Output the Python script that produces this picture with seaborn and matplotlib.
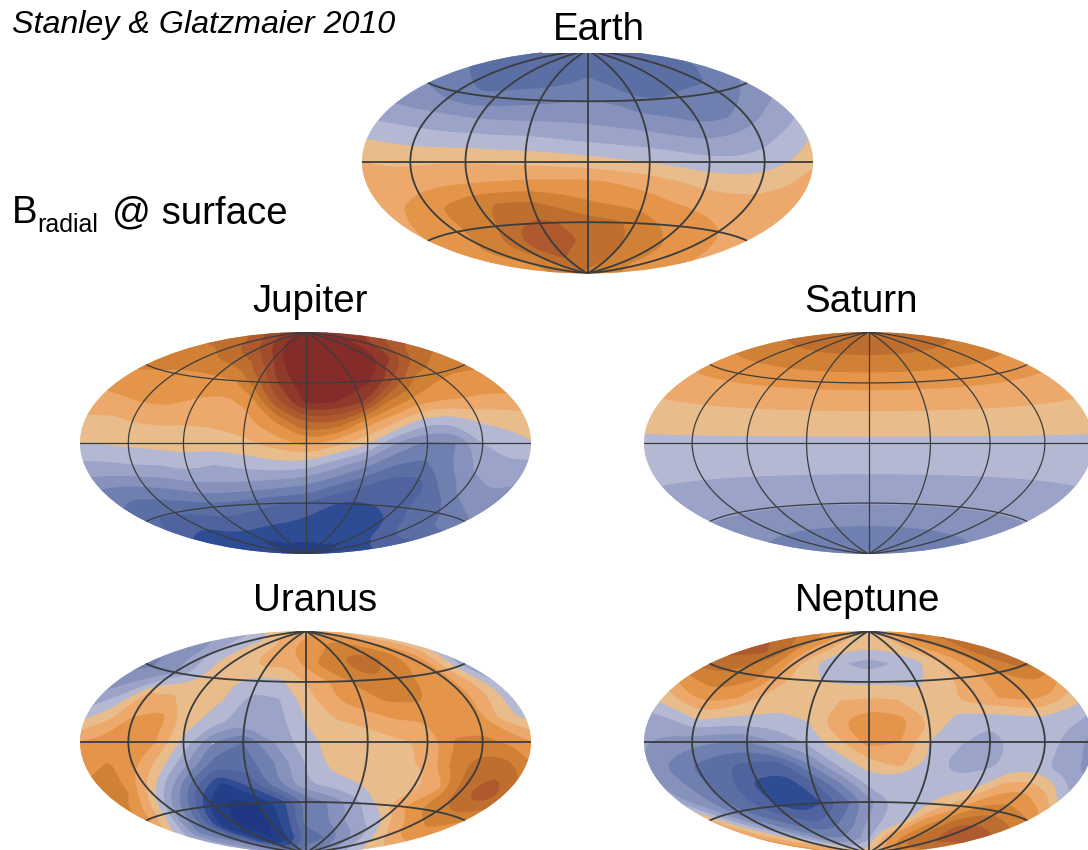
import numpy as np
import seaborn as sns
import matplotlib.pyplot as plt
from matplotlib.patches import Rectangle
from matplotlib.path import Path
from matplotlib.ticker import NullFormatter

# grid the maps are read on, degrees
lons = [-180, -157.5, -135, -112.5, -90, -67.5, -45, -22.5, 0, 22.5, 45, 67.5, 90, 112.5, 135, 157.5, 180]
lats = [90, 75, 60, 45, 30, 15, 0, -15, -30, -45, -60, -75, -90]

# field in band units: each whole number is one contour step, 0 = blue/orange edge
earth = [
    [-4.6] * 17,
    [-4.4, -4.5, -4.6, -4.6, -4.7, -4.8, -4.7, -4.6, -4.4, -4.5, -4.7, -4.8, -4.7, -4.6, -4.5, -4.4, -4.4],
    [-4.1, -4.3, -4.4, -4.5, -4.5, -4.5, -4.4, -4.1, -3.8, -4.1, -4.4, -4.6, -4.7, -4.5, -4.3, -4.1, -3.9],
    [-3.0, -3.2, -3.6, -3.9, -3.8, -3.5, -3.3, -3.1, -3.0, -3.1, -3.9, -4.0, -3.8, -3.7, -3.8, -3.2, -2.8],
    [-1.9, -1.9, -1.9, -2.0, -2.1, -2.1, -2.1, -2.1, -2.2, -2.4, -2.6, -2.9, -3.3, -3.3, -2.6, -2.0, -1.6],
    [-0.3, -0.4, -0.5, -0.6, -0.6, -0.7, -0.7, -0.9, -1.1, -1.3, -1.5, -1.8, -2.0, -1.8, -1.4, -0.9, -0.3],
    [1.0, 0.9, 0.8, 0.9, 0.9, 0.8, 0.7, 0.6, 0.42, 0.15, -0.1, -0.4, -0.7, -0.8, -0.6, 0.0, 0.9],
    [1.3, 1.4, 1.7, 1.9, 2.0, 2.1, 2.2, 2.2, 2.2, 1.9, 1.6, 1.1, 0.7, 0.6, 0.7, 1.0, 1.3],
    [1.3, 2.2, 2.7, 3.3, 3.9, 4.1, 4.1, 3.6, 3.1, 2.8, 2.5, 2.1, 1.8, 1.6, 1.5, 1.4, 1.3],
    [2.0, 2.3, 2.7, 3.3, 3.9, 4.8, 5.2, 4.9, 4.4, 4.2, 3.8, 3.0, 2.7, 2.3, 2.0, 1.8, 1.7],
    [2.5, 2.8, 3.2, 3.7, 4.5, 5.5, 5.7, 5.2, 4.7, 4.5, 4.0, 3.6, 3.1, 2.8, 2.4, 2.1, 1.9],
    [2.5, 2.7, 3.0, 3.4, 3.8, 4.6, 5.0, 4.6, 4.3, 4.2, 4.0, 3.6, 3.3, 2.9, 2.6, 2.5, 2.4],
    [3.8] * 17,
]

jupiter = [
    [8.5] * 17,
    [5.0, 5.0, 5.3, 5.8, 6.5, 7.2, 8.0, 8.3, 8.6, 8.6, 8.5, 8.5, 8.3, 8.1, 7.7, 7.2, 7.0],
    [3.6, 3.5, 3.7, 4.1, 4.3, 5.0, 6.5, 8.2, 8.6, 8.6, 8.6, 8.5, 8.1, 7.0, 5.5, 4.6, 4.3],
    [3.2, 3.0, 2.8, 2.6, 2.7, 2.9, 4.7, 7.3, 8.6, 8.7, 8.6, 7.8, 5.4, 3.6, 3.2, 3.1, 3.2],
    [2.1, 2.2, 2.4, 2.4, 1.9, 1.7, 2.3, 5.6, 8.1, 8.0, 7.1, 4.0, 2.7, 2.3, 2.2, 2.1, 2.3],
    [1.0, 0.9, 1.1, 1.2, 1.1, 1.2, 1.6, 2.9, 5.0, 4.9, 2.5, 1.0, -0.5, -0.6, 0.2, 0.5, 0.8],
    [-0.05, 0.05, 0.2, 0.35, 0.5, 0.5, 0.7, 1.4, 2.3, 1.3, 0.1, -2.2, -3.3, -3.0, -1.0, -0.6, -0.1],
    [-1.6, -1.5, -1.2, -1.1, -0.7, -1.0, -0.6, -0.3, -0.4, -1.5, -2.7, -4.0, -4.3, -3.0, -1.8, -1.3, -1.7],
    [-3.8, -3.8, -3.5, -3.0, -2.4, -2.2, -2.3, -2.5, -2.9, -3.8, -4.8, -5.7, -5.7, -4.0, -2.7, -2.2, -2.3],
    [-4.3, -5.0, -4.9, -4.8, -4.5, -4.5, -4.7, -5.0, -5.1, -5.9, -6.3, -6.0, -5.3, -4.7, -4.2, -3.4, -3.1],
    [-6.0, -6.1, -6.2, -5.8, -5.5, -5.7, -5.9, -6.0, -6.3, -6.5, -6.9, -6.9, -6.5, -5.3, -4.8, -4.6, -5.0],
    [-6.2, -6.3, -6.5, -6.8, -7.2, -7.0, -6.8, -6.9, -6.9, -6.9, -6.8, -6.9, -6.9, -6.7, -6.5, -6.3, -6.2],
    [-7.5] * 17,
]

# saturn has no longitude structure, one value per latitude
saturn = [4.6, 4.4, 3.45, 2.35, 1.35, 0.5, -0.25, -0.7, -1.3, -1.95, -2.85, -3.5, -3.8]

uranus = [
    [1.8] * 17,
    [-1.0, -0.8, -0.5, -0.1, 0.5, 0.9, 1.5, 2.0, 2.2, 2.4, 3.0, 3.2, 3.0, 2.6, 1.8, 1.0, 0.3],
    [-2.6, -2.2, -1.2, -0.2, 0.6, 0.8, 1.5, 1.2, 2.2, 3.4, 3.9, 4.5, 4.2, 3.4, 2.6, 1.6, 0.3],
    [-3.3, -2.9, -2.1, -0.8, 0.6, 0.1, -0.5, -0.2, 1.0, 2.0, 3.1, 3.9, 3.5, 2.8, 2.3, 0.2, -2.0],
    [-2.3, -1.3, 1.1, 1.1, 0.5, 0.0, -1.3, -1.2, 0.3, 1.8, 2.6, 3.1, 3.2, 2.6, 2.3, 1.0, -0.7],
    [-0.6, 0.6, 2.0, 2.4, 0.5, -0.6, -1.6, -1.6, 0.0, 0.9, 1.2, 1.9, 2.1, 2.5, 2.2, 0.5, -0.6],
    [2.0, 2.3, 2.3, 2.0, -0.3, -3.0, -4.0, -2.0, -0.4, 0.5, 0.6, 0.8, 1.2, 3.1, 3.3, 2.8, 2.0],
    [2.7, 3.2, 2.2, 0.5, -2.0, -4.5, -4.6, -3.0, -1.0, 0.5, 0.7, 0.8, 1.1, 3.2, 4.5, 4.7, 3.6],
    [4.0, 3.0, 0.8, -2.0, -5.0, -7.3, -5.6, -3.2, -1.1, -0.5, 0.0, 0.6, 0.7, 1.8, 4.6, 5.7, 4.8],
    [2.4, 0.8, -2.0, -4.5, -7.5, -8.3, -8.0, -6.5, -3.9, -2.9, -1.5, 0.0, 1.6, 2.9, 3.7, 3.8, 3.0],
    [-1.5, -3.0, -4.5, -7.0, -8.0, -8.3, -8.1, -6.4, -3.7, -3.3, -2.2, -1.4, -0.6, 1.0, 2.0, 2.6, 2.5],
    [-1.5, -2.5, -3.5, -6.0, -7.8, -8.0, -7.5, -6.0, -4.7, -4.3, -4.0, -3.0, -2.3, -1.5, -0.7, -0.2, 0.1],
    [-3.5] * 17,
]

neptune = [
    [1.0] * 17,
    [3.5, 3.3, 3.0, 2.2, 1.5, 1.0, 0.5, 0.3, 0.3, 0.3, 0.5, 1.0, 1.7, 2.5, 3.2, 3.6, 3.8],
    [5.5, 5.2, 4.7, 3.0, 1.3, 0.1, -0.7, -1.1, -1.5, -1.1, -0.7, 0.0, 1.0, 2.0, 3.3, 4.2, 4.7],
    [4.6, 4.2, 3.6, 3.3, 1.9, 0.5, 0.0, -0.2, -0.3, -0.2, -0.2, 0.5, 1.2, 2.0, 3.0, 3.8, 4.3],
    [1.4, 2.3, 2.8, 2.2, 0.9, 0.5, 0.3, 1.0, 1.2, 1.1, 0.3, 0.8, 1.6, 2.1, 2.7, 2.4, 1.4],
    [-1.1, -0.8, 0.2, -0.2, -0.3, -0.4, 0.0, 1.8, 2.8, 2.4, 1.0, -0.5, -0.7, -0.5, -0.1, -0.6, -0.9],
    [-1.9, -2.4, -2.7, -3.0, -3.1, -1.9, -0.9, 0.7, 2.4, 2.0, -0.1, -0.9, -1.6, -0.5, -0.5, -1.5, -2.5],
    [-2.2, -3.3, -4.2, -4.9, -5.3, -5.3, -3.0, -0.7, 0.6, 1.4, -0.3, -1.6, -1.3, -0.6, -0.7, -1.6, -2.2],
    [-1.9, -2.8, -4.0, -5.0, -6.4, -6.7, -5.3, -3.0, -0.7, -0.9, -0.6, -0.5, -0.3, 1.4, 1.9, 1.0, -0.7],
    [1.0, -1.8, -3.9, -4.9, -6.0, -6.7, -6.1, -4.5, -2.5, -0.9, -0.6, 0.4, 1.7, 3.2, 3.6, 3.3, 3.0],
    [2.0, 0.2, -1.8, -3.5, -4.4, -5.0, -4.5, -3.5, -2.0, -0.8, -0.1, 2.4, 3.5, 5.0, 5.6, 5.6, 5.5],
    [2.2, 1.5, 0.3, -1.3, -2.6, -2.9, -2.8, -2.3, -1.5, 0.5, 2.0, 3.0, 3.8, 4.5, 4.8, 4.5, 4.0],
    [1.0] * 17,
]

# one colour per band, from strongest blue up to strongest red
band_colours = ["#203883", "#243f8a", "#2e4c93", "#51639e", "#5c6fa5", "#6f80b0", "#8691bc", "#9ba4c8", "#b5b8d3",
                "#e9bc8b", "#eca96b", "#e59549", "#d08135", "#be6e2e", "#ae5a2e", "#a04c2d", "#90392b", "#832c2a"]
levels = np.arange(-9, 10)

W, H = 1088, 850

sns.set_theme(style="white")
plt.rcParams["font.family"] = ["Liberation Sans", "DejaVu Sans"]
palette = sns.color_palette(band_colours)


def round_corners(poly, passes=2):
    # cut the corners of a contour outline, points on the map border stay put
    pts = poly[:-1]
    for _ in range(passes):
        out = []
        for i, p in enumerate(pts):
            if abs(p[0]) > 3.14159 or abs(p[1]) > 1.5707:
                out.append(p)
            else:
                out.append(0.75 * p + 0.25 * pts[i - 1])
                out.append(0.75 * p + 0.25 * pts[(i + 1) % len(pts)])
        pts = np.array(out)
    return Path(np.vstack([pts, pts[:1]]), closed=True)


def add_map(fig, field, left, top, width, height, lw):
    box = [left / W, 1 - (top + height) / H, width / W, height / H]
    ax = fig.add_axes(box, projection="hammer")
    ax.set_aspect("auto")
    cs = ax.contourf(np.radians(lons), np.radians(lats), np.array(field), levels=levels,
                     colors=palette, antialiased=True, zorder=1)
    paths = []
    for p in cs.get_paths():
        polys = p.to_polygons()
        paths.append(Path.make_compound_path(*[round_corners(q) for q in polys]) if polys else p)
    cs.set_paths(paths)
    cs.set_edgecolor("face")
    cs.set_linewidth(0.8)
    ax.set_longitude_grid(45)
    ax.set_latitude_grid(45)
    ax.set_longitude_grid_ends(90)
    ax.xaxis.set_major_formatter(NullFormatter())
    ax.yaxis.set_major_formatter(NullFormatter())
    ax.set_axisbelow(False)
    ax.grid(True, color="#3a3d3e", linewidth=lw, linestyle="-")
    ax.spines["geo"].set_visible(False)
    return ax


def label(fig, x, y, s, size, **kw):
    return fig.text(x / W, 1 - y / H, s, fontsize=size, va="baseline", color="black", **kw)


fig = plt.figure(figsize=(W / 100, H / 100), dpi=100)

add_map(fig, earth, 362, 50, 451, 223.5, 1.3)
add_map(fig, jupiter, 80, 332, 451, 222, 0.9)
add_map(fig, np.column_stack([saturn] * 17), 644, 332, 449, 222, 0.9)
add_map(fig, uranus, 80, 631, 451, 222, 1.3)
add_map(fig, neptune, 644, 631, 449, 222, 1.3)

# white block behind the Earth title cuts the top of that map
fig.add_artist(Rectangle((542 / W, 1 - 53 / H), 115 / W, 53 / H, transform=fig.transFigure,
                         facecolor="white", edgecolor="none", zorder=2))

label(fig, 599, 40, "Earth", 27.7, ha="center", zorder=3)
label(fig, 310, 312, "Jupiter", 27.7, ha="center")
label(fig, 861, 312, "Saturn", 27.7, ha="center")
label(fig, 315, 611, "Uranus", 27.7, ha="center")
label(fig, 868, 611, "Neptune", 27.7, ha="center")

label(fig, 12, 33, "Stanley & Glatzmaier 2010", 23.2, style="italic")
label(fig, 12, 223, "B", 27.6)
label(fig, 37, 232, "radial", 18)
label(fig, 112, 223, "@ surface", 27.6)

fig.savefig("out.png", dpi=100)
